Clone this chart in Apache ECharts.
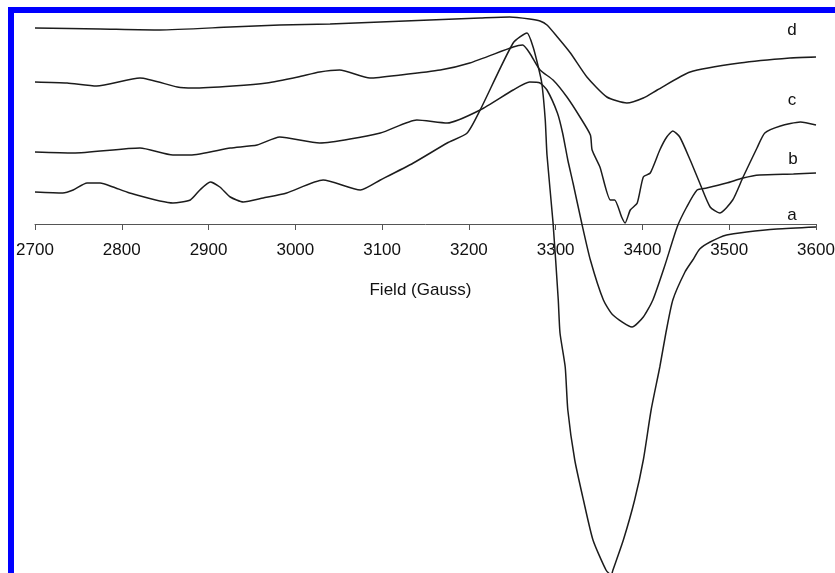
<!DOCTYPE html>
<html>
<head>
<meta charset="utf-8">
<script src="https://cdn.jsdelivr.net/npm/echarts@6/dist/echarts.min.js"></script>
<style>
  html, body { margin: 0; padding: 0; background: #fff; }
  #chart { width: 835px; height: 573px; }
</style>
</head>
<body>
<div id="chart"></div>
<script>
// field (Gauss), signal (arb. units, baseline of spectrum a = axis)
var xTicks = [2700, 2800, 2900, 3000, 3100, 3200, 3300, 3400, 3500, 3600];
var traceNames = ['a', 'b', 'c', 'd'];

var traceD = [
  [2700,196],[2775,195],[2844,194],[2925,197],[2982,199],[3040,200],[3098,202],
  [3155,204],[3213,206],[3247,207],[3270,205],[3282,203],[3290,199],[3302,187],
  [3317,171],[3336,147],[3359,127],[3382,121],[3401,126],[3417,134],[3455,152],
  [3512,161],[3570,166],[3600,167]
];
var traceC = [
  [2700,142],[2737,141],[2771,138],[2821,146],[2864,137],[2882,136],[2928,138],
  [2967,141],[3003,147],[3028,152],[3051,154],[3086,146],[3121,149],[3167,154],
  [3201,161],[3251,177],[3262,179],[3270,171],[3282,154],[3297,144],[3313,127],
  [3328,107],[3340,89],[3342,74],[3351,57],[3363,24],[3368,24],[3376,7],[3380,1],
  [3386,14],[3394,21],[3401,47],[3409,51],[3420,74],[3428,87],[3435,93],[3443,87],
  [3455,64],[3466,41],[3478,17],[3489,11],[3504,24],[3516,47],[3532,76],[3541,91],
  [3559,98],[3582,102],[3600,99]
];
var traceB = [
  [2700,72],[2744,71],[2821,76],[2859,69],[2879,69],[2925,76],[2956,79],[2982,87],
  [3028,81],[3098,91],[3140,104],[3175,101],[3213,114],[3251,134],[3270,142],
  [3282,141],[3290,134],[3302,111],[3308,91],[3314,64],[3320,41],[3330,1],
  [3340,-36],[3355,-76],[3366,-91],[3388,-103],[3401,-93],[3412,-76],[3426,-41],
  [3440,-3],[3451,17],[3463,34],[3474,36],[3497,41],[3516,46],[3535,49],[3574,50],
  [3600,51]
];
var traceA = [
  [2700,32],[2732,31],[2744,34],[2760,41],[2775,41],[2790,37],[2809,31],[2859,21],
  [2879,24],[2890,34],[2902,42],[2913,37],[2925,27],[2940,22],[2963,26],[2990,31],
  [3032,44],[3075,34],[3098,44],[3136,61],[3175,81],[3198,91],[3213,114],[3251,181],
  [3267,191],[3274,177],[3280,157],[3284,141],[3288,104],[3290,69],[3297,1],
  [3303,-76],[3305,-109],[3311,-143],[3314,-186],[3322,-236],[3332,-276],[3343,-316],
  [3358,-346],[3364,-351],[3366,-346],[3378,-316],[3391,-276],[3401,-236],[3410,-186],
  [3420,-143],[3427,-109],[3435,-76],[3449,-48],[3458,-36],[3466,-25],[3478,-18],
  [3497,-11],[3520,-8],[3555,-5],[3600,-3]
];

var chart = echarts.init(document.getElementById('chart'));

function trace(name, data) {
  return {
    name: name,
    type: 'line',
    data: data,
    showSymbol: false,
    smooth: 0.2,
    clip: false, // spectra a and b dip below the field axis
    lineStyle: { color: '#1c1c1c', width: 1.5 },
    silent: true
  };
}

var font = 'Liberation Sans, Arial, sans-serif';

chart.setOption({
  backgroundColor: '#fff',
  animation: false,
  // the grid ends at the field axis, the plot area goes on below it
  grid: { left: 35, right: 19, top: 0, height: 224, outerBoundsMode: 'none', containLabel: false },
  xAxis: {
    type: 'value',
    min: xTicks[0],
    max: xTicks[xTicks.length - 1],
    interval: 100,
    name: 'Field (Gauss)',
    nameLocation: 'middle',
    nameGap: 58,
    nameTextStyle: { color: '#111', fontSize: 17, fontFamily: font, padding: [0, 10, 0, 0] },
    axisLine: { onZero: false, lineStyle: { color: '#555', width: 1 } },
    axisTick: { inside: false, length: 6, lineStyle: { color: '#555' } },
    axisLabel: {
      color: '#111', fontSize: 17, fontFamily: font, margin: 18,
      formatter: function (v) { return String(v); }
    },
    splitLine: { show: false }
  },
  yAxis: {
    type: 'value',
    min: 0,
    max: 224,
    show: false
  },
  series: [
    trace(traceNames[0], traceA),
    trace(traceNames[1], traceB),
    trace(traceNames[2], traceC),
    trace(traceNames[3], traceD)
  ],
  graphic: [
    { type: 'rect', shape: { x: 8, y: 7, width: 827, height: 6 }, style: { fill: '#0000ff' }, z: 100 },
    { type: 'rect', shape: { x: 8, y: 7, width: 6, height: 566 }, style: { fill: '#0000ff' }, z: 100 },
    { type: 'text', x: 792, y: 30, style: { text: traceNames[3], fill: '#111', font: '17px ' + font, textAlign: 'center', textVerticalAlign: 'middle' } },
    { type: 'text', x: 792, y: 100, style: { text: traceNames[2], fill: '#111', font: '17px ' + font, textAlign: 'center', textVerticalAlign: 'middle' } },
    { type: 'text', x: 793, y: 159, style: { text: traceNames[1], fill: '#111', font: '17px ' + font, textAlign: 'center', textVerticalAlign: 'middle' } },
    { type: 'text', x: 792, y: 215, style: { text: traceNames[0], fill: '#111', font: '17px ' + font, textAlign: 'center', textVerticalAlign: 'middle' } }
  ]
});
</script>
</body>
</html>
